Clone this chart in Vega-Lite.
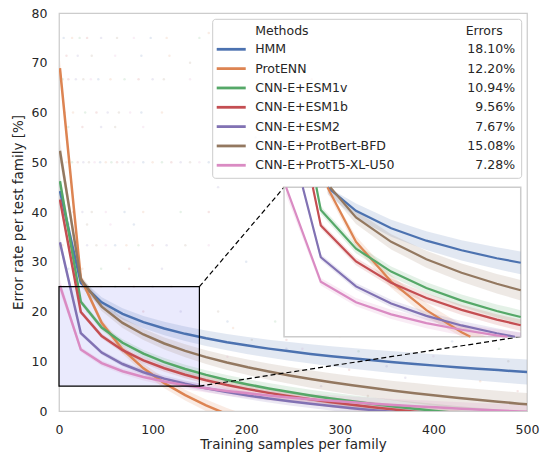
{
"$schema":"https://vega.github.io/schema/vega-lite/v6.json",
"width":468,"height":398,
"autosize":"none",
"padding":{"left":59,"top":13,"right":15,"bottom":43},
"background":"white",
"config":{"view":{"stroke":"#cccccc","strokeWidth":1.25},"font":"DejaVu Sans",
"axis":{"domain":false,"ticks":false,"grid":false,"labelFlush":false,"labelFont":"DejaVu Sans","labelFontSize":12.5,"labelColor":"#262626","titleFont":"DejaVu Sans","titleFontSize":13.5,"titleFontWeight":"normal","titleColor":"#262626","labelPadding":12}},
"data":{"values":[{}]},
"datasets":{
"curves":[
{"m":"HMM","x":1,"y":44.2,"lo":41.9,"hi":46.5},{"m":"HMM","x":23.3,"y":25.78,"lo":24.88,"hi":26.68},{"m":"HMM","x":45.6,"y":21.85,"lo":20.85,"hi":22.85},{"m":"HMM","x":67.9,"y":19.53,"lo":18.4,"hi":20.66},{"m":"HMM","x":90.2,"y":17.86,"lo":16.61,"hi":19.11},{"m":"HMM","x":112.5,"y":16.57,"lo":15.21,"hi":17.93},{"m":"HMM","x":134.8,"y":15.51,"lo":14.05,"hi":16.97},{"m":"HMM","x":157.1,"y":14.62,"lo":13.06,"hi":16.18},{"m":"HMM","x":179.4,"y":13.84,"lo":12.2,"hi":15.48},{"m":"HMM","x":201.7,"y":13.16,"lo":11.43,"hi":14.89},{"m":"HMM","x":224,"y":12.54,"lo":10.74,"hi":14.34},{"m":"HMM","x":246.3,"y":11.99,"lo":10.12,"hi":13.86},{"m":"HMM","x":268.6,"y":11.48,"lo":9.54,"hi":13.42},{"m":"HMM","x":290.9,"y":11.01,"lo":9.0,"hi":13.02},{"m":"HMM","x":313.2,"y":10.58,"lo":8.51,"hi":12.65},{"m":"HMM","x":335.5,"y":10.18,"lo":8.05,"hi":12.31},{"m":"HMM","x":357.8,"y":9.8,"lo":7.61,"hi":11.99},{"m":"HMM","x":380.1,"y":9.45,"lo":7.21,"hi":11.69},{"m":"HMM","x":402.4,"y":9.12,"lo":6.83,"hi":11.41},{"m":"HMM","x":424.7,"y":8.8,"lo":6.46,"hi":11.14},{"m":"HMM","x":447,"y":8.5,"lo":6.11,"hi":10.89},{"m":"HMM","x":469.3,"y":8.22,"lo":5.78,"hi":10.66},{"m":"HMM","x":491.6,"y":7.94,"lo":5.45,"hi":10.43},{"m":"HMM","x":513.9,"y":7.68,"lo":5.15,"hi":10.21},
{"m":"ProtENN","x":1,"y":68.9,"lo":67.17,"hi":70.63},{"m":"ProtENN","x":23.3,"y":26.71,"lo":26.03,"hi":27.39},{"m":"ProtENN","x":45.6,"y":17.71,"lo":16.96,"hi":18.46},{"m":"ProtENN","x":67.9,"y":12.38,"lo":11.53,"hi":13.23},{"m":"ProtENN","x":90.2,"y":8.57,"lo":7.63,"hi":9.51},{"m":"ProtENN","x":112.5,"y":5.61,"lo":4.59,"hi":6.63},{"m":"ProtENN","x":134.8,"y":3.19,"lo":2.09,"hi":4.29},{"m":"ProtENN","x":157.1,"y":1.14,"lo":-0.03,"hi":2.31},{"m":"ProtENN","x":179.4,"y":-0.64,"lo":-1.87,"hi":0.59},{"m":"ProtENN","x":201.7,"y":-2.21,"lo":-3.51,"hi":-0.91},
{"m":"CNN-E+ESM1v","x":1,"y":46.2,"lo":44.82,"hi":47.58},{"m":"CNN-E+ESM1v","x":23.3,"y":21.96,"lo":21.42,"hi":22.5},{"m":"CNN-E+ESM1v","x":45.6,"y":16.79,"lo":16.19,"hi":17.39},{"m":"CNN-E+ESM1v","x":67.9,"y":13.72,"lo":13.04,"hi":14.4},{"m":"CNN-E+ESM1v","x":90.2,"y":11.53,"lo":10.78,"hi":12.28},{"m":"CNN-E+ESM1v","x":112.5,"y":9.83,"lo":9.01,"hi":10.65},{"m":"CNN-E+ESM1v","x":134.8,"y":8.44,"lo":7.56,"hi":9.32},{"m":"CNN-E+ESM1v","x":157.1,"y":7.26,"lo":6.32,"hi":8.2},{"m":"CNN-E+ESM1v","x":179.4,"y":6.24,"lo":5.26,"hi":7.22},{"m":"CNN-E+ESM1v","x":201.7,"y":5.34,"lo":4.3,"hi":6.38},{"m":"CNN-E+ESM1v","x":224,"y":4.53,"lo":3.45,"hi":5.61},{"m":"CNN-E+ESM1v","x":246.3,"y":3.8,"lo":2.68,"hi":4.92},{"m":"CNN-E+ESM1v","x":268.6,"y":3.13,"lo":1.97,"hi":4.29},{"m":"CNN-E+ESM1v","x":290.9,"y":2.52,"lo":1.31,"hi":3.73},{"m":"CNN-E+ESM1v","x":313.2,"y":1.95,"lo":0.71,"hi":3.19},{"m":"CNN-E+ESM1v","x":335.5,"y":1.42,"lo":0.14,"hi":2.7},{"m":"CNN-E+ESM1v","x":357.8,"y":0.92,"lo":-0.39,"hi":2.23},{"m":"CNN-E+ESM1v","x":380.1,"y":0.46,"lo":-0.88,"hi":1.8},{"m":"CNN-E+ESM1v","x":402.4,"y":0.02,"lo":-1.35,"hi":1.39},{"m":"CNN-E+ESM1v","x":424.7,"y":-0.4,"lo":-1.8,"hi":1.0},{"m":"CNN-E+ESM1v","x":447,"y":-0.79,"lo":-2.22,"hi":0.64},{"m":"CNN-E+ESM1v","x":469.3,"y":-1.16,"lo":-2.62,"hi":0.3},{"m":"CNN-E+ESM1v","x":491.6,"y":-1.52,"lo":-3.01,"hi":-0.03},{"m":"CNN-E+ESM1v","x":513.9,"y":-1.86,"lo":-3.38,"hi":-0.34},
{"m":"CNN-E+ESM1b","x":1,"y":42.5,"lo":41.35,"hi":43.65},{"m":"CNN-E+ESM1b","x":23.3,"y":19.89,"lo":19.44,"hi":20.34},{"m":"CNN-E+ESM1b","x":45.6,"y":15.07,"lo":14.57,"hi":15.57},{"m":"CNN-E+ESM1b","x":67.9,"y":12.22,"lo":11.65,"hi":12.79},{"m":"CNN-E+ESM1b","x":90.2,"y":10.18,"lo":9.55,"hi":10.81},{"m":"CNN-E+ESM1b","x":112.5,"y":8.59,"lo":7.91,"hi":9.27},{"m":"CNN-E+ESM1b","x":134.8,"y":7.29,"lo":6.56,"hi":8.02},{"m":"CNN-E+ESM1b","x":157.1,"y":6.19,"lo":5.41,"hi":6.97},{"m":"CNN-E+ESM1b","x":179.4,"y":5.24,"lo":4.42,"hi":6.06},{"m":"CNN-E+ESM1b","x":201.7,"y":4.4,"lo":3.53,"hi":5.27},{"m":"CNN-E+ESM1b","x":224,"y":3.64,"lo":2.74,"hi":4.54},{"m":"CNN-E+ESM1b","x":246.3,"y":2.96,"lo":2.02,"hi":3.9},{"m":"CNN-E+ESM1b","x":268.6,"y":2.34,"lo":1.37,"hi":3.31},{"m":"CNN-E+ESM1b","x":290.9,"y":1.77,"lo":0.76,"hi":2.78},{"m":"CNN-E+ESM1b","x":313.2,"y":1.24,"lo":0.2,"hi":2.28},{"m":"CNN-E+ESM1b","x":335.5,"y":0.74,"lo":-0.33,"hi":1.81},{"m":"CNN-E+ESM1b","x":357.8,"y":0.28,"lo":-0.82,"hi":1.38},{"m":"CNN-E+ESM1b","x":380.1,"y":-0.15,"lo":-1.27,"hi":0.97},{"m":"CNN-E+ESM1b","x":402.4,"y":-0.56,"lo":-1.71,"hi":0.59},{"m":"CNN-E+ESM1b","x":424.7,"y":-0.95,"lo":-2.12,"hi":0.22},{"m":"CNN-E+ESM1b","x":447,"y":-1.32,"lo":-2.52,"hi":-0.12},{"m":"CNN-E+ESM1b","x":469.3,"y":-1.66,"lo":-2.88,"hi":-0.44},
{"m":"CNN-E+ESM2","x":1,"y":33.9,"lo":32.86,"hi":34.94},{"m":"CNN-E+ESM2","x":23.3,"y":15.64,"lo":15.23,"hi":16.05},{"m":"CNN-E+ESM2","x":45.6,"y":11.74,"lo":11.29,"hi":12.19},{"m":"CNN-E+ESM2","x":67.9,"y":9.44,"lo":8.93,"hi":9.95},{"m":"CNN-E+ESM2","x":90.2,"y":7.79,"lo":7.23,"hi":8.35},{"m":"CNN-E+ESM2","x":112.5,"y":6.51,"lo":5.9,"hi":7.12},{"m":"CNN-E+ESM2","x":134.8,"y":5.46,"lo":4.8,"hi":6.12},{"m":"CNN-E+ESM2","x":157.1,"y":4.57,"lo":3.87,"hi":5.27},{"m":"CNN-E+ESM2","x":179.4,"y":3.8,"lo":3.06,"hi":4.54},{"m":"CNN-E+ESM2","x":201.7,"y":3.12,"lo":2.34,"hi":3.9},{"m":"CNN-E+ESM2","x":224,"y":2.51,"lo":1.7,"hi":3.32},{"m":"CNN-E+ESM2","x":246.3,"y":1.96,"lo":1.12,"hi":2.8},{"m":"CNN-E+ESM2","x":268.6,"y":1.46,"lo":0.59,"hi":2.33},{"m":"CNN-E+ESM2","x":290.9,"y":1.0,"lo":0.1,"hi":1.9},{"m":"CNN-E+ESM2","x":313.2,"y":0.57,"lo":-0.36,"hi":1.5},{"m":"CNN-E+ESM2","x":335.5,"y":0.17,"lo":-0.79,"hi":1.13},{"m":"CNN-E+ESM2","x":357.8,"y":-0.2,"lo":-1.19,"hi":0.79},{"m":"CNN-E+ESM2","x":380.1,"y":-0.56,"lo":-1.57,"hi":0.45},{"m":"CNN-E+ESM2","x":402.4,"y":-0.89,"lo":-1.92,"hi":0.14},{"m":"CNN-E+ESM2","x":424.7,"y":-1.2,"lo":-2.25,"hi":-0.15},
{"m":"CNN-E+ProtBert-BFD","x":1,"y":52.3,"lo":50.23,"hi":54.37},{"m":"CNN-E+ProtBert-BFD","x":23.3,"y":26.48,"lo":25.67,"hi":27.29},{"m":"CNN-E+ProtBert-BFD","x":45.6,"y":20.98,"lo":20.08,"hi":21.88},{"m":"CNN-E+ProtBert-BFD","x":67.9,"y":17.71,"lo":16.69,"hi":18.73},{"m":"CNN-E+ProtBert-BFD","x":90.2,"y":15.38,"lo":14.25,"hi":16.51},{"m":"CNN-E+ProtBert-BFD","x":112.5,"y":13.57,"lo":12.35,"hi":14.79},{"m":"CNN-E+ProtBert-BFD","x":134.8,"y":12.09,"lo":10.78,"hi":13.4},{"m":"CNN-E+ProtBert-BFD","x":157.1,"y":10.83,"lo":9.43,"hi":12.23},{"m":"CNN-E+ProtBert-BFD","x":179.4,"y":9.74,"lo":8.26,"hi":11.22},{"m":"CNN-E+ProtBert-BFD","x":201.7,"y":8.78,"lo":7.22,"hi":10.34},{"m":"CNN-E+ProtBert-BFD","x":224,"y":7.92,"lo":6.3,"hi":9.54},{"m":"CNN-E+ProtBert-BFD","x":246.3,"y":7.15,"lo":5.47,"hi":8.83},{"m":"CNN-E+ProtBert-BFD","x":268.6,"y":6.44,"lo":4.69,"hi":8.19},{"m":"CNN-E+ProtBert-BFD","x":290.9,"y":5.78,"lo":3.97,"hi":7.59},{"m":"CNN-E+ProtBert-BFD","x":313.2,"y":5.18,"lo":3.32,"hi":7.04},{"m":"CNN-E+ProtBert-BFD","x":335.5,"y":4.61,"lo":2.69,"hi":6.53},{"m":"CNN-E+ProtBert-BFD","x":357.8,"y":4.08,"lo":2.11,"hi":6.05},{"m":"CNN-E+ProtBert-BFD","x":380.1,"y":3.59,"lo":1.57,"hi":5.61},{"m":"CNN-E+ProtBert-BFD","x":402.4,"y":3.12,"lo":1.06,"hi":5.18},{"m":"CNN-E+ProtBert-BFD","x":424.7,"y":2.68,"lo":0.57,"hi":4.79},{"m":"CNN-E+ProtBert-BFD","x":447,"y":2.26,"lo":0.11,"hi":4.41},{"m":"CNN-E+ProtBert-BFD","x":469.3,"y":1.86,"lo":-0.34,"hi":4.06},{"m":"CNN-E+ProtBert-BFD","x":491.6,"y":1.48,"lo":-0.76,"hi":3.72},{"m":"CNN-E+ProtBert-BFD","x":513.9,"y":1.12,"lo":-1.16,"hi":3.4},
{"m":"CNN-E+ProtT5-XL-U50","x":1,"y":25.2,"lo":23.93,"hi":26.47},{"m":"CNN-E+ProtT5-XL-U50","x":23.3,"y":12.35,"lo":11.85,"hi":12.85},{"m":"CNN-E+ProtT5-XL-U50","x":45.6,"y":9.62,"lo":9.07,"hi":10.17},{"m":"CNN-E+ProtT5-XL-U50","x":67.9,"y":7.99,"lo":7.37,"hi":8.61},{"m":"CNN-E+ProtT5-XL-U50","x":90.2,"y":6.83,"lo":6.14,"hi":7.52},{"m":"CNN-E+ProtT5-XL-U50","x":112.5,"y":5.93,"lo":5.18,"hi":6.68},{"m":"CNN-E+ProtT5-XL-U50","x":134.8,"y":5.19,"lo":4.39,"hi":5.99},{"m":"CNN-E+ProtT5-XL-U50","x":157.1,"y":4.57,"lo":3.71,"hi":5.43},{"m":"CNN-E+ProtT5-XL-U50","x":179.4,"y":4.03,"lo":3.13,"hi":4.93},{"m":"CNN-E+ProtT5-XL-U50","x":201.7,"y":3.55,"lo":2.6,"hi":4.5},{"m":"CNN-E+ProtT5-XL-U50","x":224,"y":3.12,"lo":2.13,"hi":4.11},{"m":"CNN-E+ProtT5-XL-U50","x":246.3,"y":2.73,"lo":1.7,"hi":3.76},{"m":"CNN-E+ProtT5-XL-U50","x":268.6,"y":2.38,"lo":1.31,"hi":3.45},{"m":"CNN-E+ProtT5-XL-U50","x":290.9,"y":2.05,"lo":0.94,"hi":3.16},{"m":"CNN-E+ProtT5-XL-U50","x":313.2,"y":1.75,"lo":0.61,"hi":2.89},{"m":"CNN-E+ProtT5-XL-U50","x":335.5,"y":1.47,"lo":0.3,"hi":2.64},{"m":"CNN-E+ProtT5-XL-U50","x":357.8,"y":1.21,"lo":0.01,"hi":2.41},{"m":"CNN-E+ProtT5-XL-U50","x":380.1,"y":0.96,"lo":-0.27,"hi":2.19},{"m":"CNN-E+ProtT5-XL-U50","x":402.4,"y":0.73,"lo":-0.53,"hi":1.99},{"m":"CNN-E+ProtT5-XL-U50","x":424.7,"y":0.51,"lo":-0.78,"hi":1.8},{"m":"CNN-E+ProtT5-XL-U50","x":447,"y":0.3,"lo":-1.01,"hi":1.61},{"m":"CNN-E+ProtT5-XL-U50","x":469.3,"y":0.1,"lo":-1.24,"hi":1.44},{"m":"CNN-E+ProtT5-XL-U50","x":491.6,"y":-0.09,"lo":-1.46,"hi":1.28},{"m":"CNN-E+ProtT5-XL-U50","x":513.9,"y":-0.27,"lo":-1.66,"hi":1.12}
],
"inset":[
{"m":"HMM","x":27.7,"y":25,"lo":24.08,"hi":25},{"m":"HMM","x":45.6,"y":21.85,"lo":20.85,"hi":22.85},{"m":"HMM","x":67.9,"y":19.53,"lo":18.4,"hi":20.66},{"m":"HMM","x":90.2,"y":17.86,"lo":16.61,"hi":19.11},{"m":"HMM","x":112.5,"y":16.57,"lo":15.21,"hi":17.93},{"m":"HMM","x":134.8,"y":15.51,"lo":14.05,"hi":16.97},{"m":"HMM","x":150,"y":14.9,"lo":13.38,"hi":16.42},
{"m":"ProtENN","x":27.5,"y":25,"lo":24.3,"hi":25},{"m":"ProtENN","x":45.6,"y":17.71,"lo":16.96,"hi":18.46},{"m":"ProtENN","x":67.9,"y":12.38,"lo":11.53,"hi":13.23},{"m":"ProtENN","x":90.2,"y":8.57,"lo":7.63,"hi":9.51},{"m":"ProtENN","x":112.5,"y":5.61,"lo":5,"hi":6.63},{"m":"ProtENN","x":118.1,"y":5,"lo":5,"hi":6.05},{"m":"ProtENN","x":128,"y":null,"lo":5,"hi":5},
{"m":"CNN-E+ESM1v","x":20.5,"y":25,"lo":24.5,"hi":25},{"m":"CNN-E+ESM1v","x":23.3,"y":21.96,"lo":21.42,"hi":22.5},{"m":"CNN-E+ESM1v","x":45.6,"y":16.79,"lo":16.19,"hi":17.39},{"m":"CNN-E+ESM1v","x":67.9,"y":13.72,"lo":13.04,"hi":14.4},{"m":"CNN-E+ESM1v","x":90.2,"y":11.53,"lo":10.78,"hi":12.28},{"m":"CNN-E+ESM1v","x":112.5,"y":9.83,"lo":9.01,"hi":10.65},{"m":"CNN-E+ESM1v","x":134.8,"y":8.44,"lo":7.56,"hi":9.32},{"m":"CNN-E+ESM1v","x":150,"y":7.64,"lo":6.72,"hi":8.56},
{"m":"CNN-E+ESM1b","x":18.26,"y":25,"lo":24.5,"hi":25},{"m":"CNN-E+ESM1b","x":23.3,"y":19.89,"lo":19.44,"hi":20.34},{"m":"CNN-E+ESM1b","x":45.6,"y":15.07,"lo":14.57,"hi":15.57},{"m":"CNN-E+ESM1b","x":67.9,"y":12.22,"lo":11.65,"hi":12.79},{"m":"CNN-E+ESM1b","x":90.2,"y":10.18,"lo":9.55,"hi":10.81},{"m":"CNN-E+ESM1b","x":112.5,"y":8.59,"lo":7.91,"hi":9.27},{"m":"CNN-E+ESM1b","x":134.8,"y":7.29,"lo":6.56,"hi":8.02},{"m":"CNN-E+ESM1b","x":150,"y":6.54,"lo":5.78,"hi":7.3},
{"m":"CNN-E+ESM2","x":11.87,"y":25,"lo":24.55,"hi":25},{"m":"CNN-E+ESM2","x":23.3,"y":15.64,"lo":15.23,"hi":16.05},{"m":"CNN-E+ESM2","x":45.6,"y":11.74,"lo":11.29,"hi":12.19},{"m":"CNN-E+ESM2","x":67.9,"y":9.44,"lo":8.93,"hi":9.95},{"m":"CNN-E+ESM2","x":90.2,"y":7.79,"lo":7.23,"hi":8.35},{"m":"CNN-E+ESM2","x":112.5,"y":6.51,"lo":5.9,"hi":7.12},{"m":"CNN-E+ESM2","x":134.8,"y":5.46,"lo":5,"hi":6.12},{"m":"CNN-E+ESM2","x":146.3,"y":5,"lo":5,"hi":5.68},{"m":"CNN-E+ESM2","x":150,"y":null,"lo":5,"hi":5.53},
{"m":"CNN-E+ProtBert-BFD","x":29.3,"y":25,"lo":24.2,"hi":25},{"m":"CNN-E+ProtBert-BFD","x":45.6,"y":20.98,"lo":20.08,"hi":21.88},{"m":"CNN-E+ProtBert-BFD","x":67.9,"y":17.71,"lo":16.69,"hi":18.73},{"m":"CNN-E+ProtBert-BFD","x":90.2,"y":15.38,"lo":14.25,"hi":16.51},{"m":"CNN-E+ProtBert-BFD","x":112.5,"y":13.57,"lo":12.35,"hi":14.79},{"m":"CNN-E+ProtBert-BFD","x":134.8,"y":12.09,"lo":10.78,"hi":13.4},{"m":"CNN-E+ProtBert-BFD","x":150,"y":11.23,"lo":9.86,"hi":12.6},
{"m":"CNN-E+ProtT5-XL-U50","x":1.35,"y":25,"lo":23.95,"hi":25},{"m":"CNN-E+ProtT5-XL-U50","x":23.3,"y":12.35,"lo":11.85,"hi":12.85},{"m":"CNN-E+ProtT5-XL-U50","x":45.6,"y":9.62,"lo":9.07,"hi":10.17},{"m":"CNN-E+ProtT5-XL-U50","x":67.9,"y":7.99,"lo":7.37,"hi":8.61},{"m":"CNN-E+ProtT5-XL-U50","x":90.2,"y":6.83,"lo":6.14,"hi":7.52},{"m":"CNN-E+ProtT5-XL-U50","x":112.5,"y":5.93,"lo":5.18,"hi":6.68},{"m":"CNN-E+ProtT5-XL-U50","x":134.8,"y":5.19,"lo":5,"hi":5.99},{"m":"CNN-E+ProtT5-XL-U50","x":141.6,"y":5,"lo":5,"hi":5.81},{"m":"CNN-E+ProtT5-XL-U50","x":150,"y":null,"lo":5,"hi":5.6}
],
"legend":[
{"m":"HMM","err":"18.10%","rank":0},{"m":"ProtENN","err":"12.20%","rank":1},{"m":"CNN-E+ESM1v","err":"10.94%","rank":2},{"m":"CNN-E+ESM1b","err":"9.56%","rank":3},{"m":"CNN-E+ESM2","err":"7.67%","rank":4},{"m":"CNN-E+ProtBert-BFD","err":"15.08%","rank":5},{"m":"CNN-E+ProtT5-XL-U50","err":"7.28%","rank":6}
],
"dots":[
{"m":"HMM","x":5,"y":75},{"m":"ProtENN","x":14,"y":75},{"m":"CNN-E+ESM1v","x":22,"y":75},{"m":"CNN-E+ESM1b","x":30,"y":75},{"m":"CNN-E+ESM2","x":45,"y":75},{"m":"CNN-E+ProtBert-BFD","x":62,"y":75},{"m":"CNN-E+ProtT5-XL-U50","x":80,"y":75},{"m":"HMM","x":98,"y":75},{"m":"ProtENN","x":115,"y":75},{"m":"CNN-E+ESM1v","x":150,"y":75},
{"m":"CNN-E+ESM1b","x":8,"y":71.4},{"m":"CNN-E+ESM2","x":20,"y":71.4},{"m":"CNN-E+ProtBert-BFD","x":35,"y":71.4},{"m":"CNN-E+ProtT5-XL-U50","x":60,"y":71.4},{"m":"HMM","x":88,"y":71.4},{"m":"ProtENN","x":118,"y":71.4},
{"m":"CNN-E+ESM1v","x":4,"y":66.7},{"m":"CNN-E+ESM1b","x":10,"y":66.7},{"m":"CNN-E+ESM2","x":18,"y":66.7},{"m":"CNN-E+ProtBert-BFD","x":26,"y":66.7},{"m":"CNN-E+ProtT5-XL-U50","x":34,"y":66.7},{"m":"HMM","x":42,"y":66.7},{"m":"ProtENN","x":55,"y":66.7},{"m":"CNN-E+ESM1v","x":70,"y":66.7},{"m":"CNN-E+ESM1b","x":85,"y":66.7},{"m":"CNN-E+ESM2","x":100,"y":66.7},{"m":"CNN-E+ProtBert-BFD","x":112,"y":66.7},{"m":"CNN-E+ProtT5-XL-U50","x":140,"y":66.7},
{"m":"HMM","x":6,"y":60},{"m":"ProtENN","x":15,"y":60},{"m":"CNN-E+ESM1v","x":28,"y":60},{"m":"CNN-E+ESM1b","x":40,"y":60},{"m":"CNN-E+ESM2","x":52,"y":60},{"m":"CNN-E+ProtBert-BFD","x":64,"y":60},{"m":"CNN-E+ProtT5-XL-U50","x":76,"y":60},{"m":"HMM","x":88,"y":60},{"m":"ProtENN","x":110,"y":60},
{"m":"CNN-E+ESM1v","x":10,"y":57.1},{"m":"CNN-E+ESM1b","x":25,"y":57.1},{"m":"CNN-E+ESM2","x":45,"y":57.1},{"m":"CNN-E+ProtBert-BFD","x":60,"y":57.1},{"m":"CNN-E+ProtT5-XL-U50","x":90,"y":57.1},
{"m":"HMM","x":3,"y":50},{"m":"ProtENN","x":8,"y":50},{"m":"CNN-E+ESM1v","x":14,"y":50},{"m":"CNN-E+ESM1b","x":20,"y":50},{"m":"CNN-E+ESM2","x":26,"y":50},{"m":"CNN-E+ProtBert-BFD","x":32,"y":50},{"m":"CNN-E+ProtT5-XL-U50","x":38,"y":50},{"m":"HMM","x":44,"y":50},{"m":"ProtENN","x":50,"y":50},{"m":"CNN-E+ESM1v","x":56,"y":50},{"m":"CNN-E+ESM1b","x":62,"y":50},{"m":"CNN-E+ESM2","x":68,"y":50},{"m":"CNN-E+ProtBert-BFD","x":74,"y":50},{"m":"CNN-E+ProtT5-XL-U50","x":80,"y":50},{"m":"HMM","x":90,"y":50},{"m":"ProtENN","x":100,"y":50},{"m":"CNN-E+ESM1v","x":110,"y":50},{"m":"CNN-E+ESM1b","x":120,"y":50},{"m":"CNN-E+ESM2","x":130,"y":50},{"m":"CNN-E+ProtBert-BFD","x":140,"y":50},{"m":"CNN-E+ProtT5-XL-U50","x":150,"y":50},{"m":"HMM","x":160,"y":50},{"m":"ProtENN","x":200,"y":50},
{"m":"CNN-E+ESM1v","x":5,"y":40},{"m":"CNN-E+ESM1b","x":15,"y":40},{"m":"CNN-E+ESM2","x":25,"y":40},{"m":"CNN-E+ProtBert-BFD","x":35,"y":40},{"m":"CNN-E+ProtT5-XL-U50","x":50,"y":40},{"m":"HMM","x":70,"y":40},{"m":"ProtENN","x":90,"y":40},{"m":"CNN-E+ESM1v","x":130,"y":40},{"m":"CNN-E+ESM1b","x":160,"y":40},
{"m":"CNN-E+ESM2","x":10,"y":37.5},{"m":"CNN-E+ProtBert-BFD","x":30,"y":37.5},{"m":"CNN-E+ProtT5-XL-U50","x":55,"y":37.5},{"m":"HMM","x":80,"y":37.5},
{"m":"ProtENN","x":4,"y":33.3},{"m":"CNN-E+ESM1v","x":12,"y":33.3},{"m":"CNN-E+ESM1b","x":20,"y":33.3},{"m":"CNN-E+ESM2","x":30,"y":33.3},{"m":"CNN-E+ProtBert-BFD","x":40,"y":33.3},{"m":"CNN-E+ProtT5-XL-U50","x":50,"y":33.3},{"m":"HMM","x":60,"y":33.3},{"m":"ProtENN","x":72,"y":33.3},{"m":"CNN-E+ESM1v","x":85,"y":33.3},{"m":"CNN-E+ESM1b","x":100,"y":33.3},{"m":"CNN-E+ESM2","x":115,"y":33.3},{"m":"CNN-E+ProtBert-BFD","x":135,"y":33.3},{"m":"CNN-E+ProtT5-XL-U50","x":160,"y":33.3},
{"m":"HMM","x":10,"y":28.6},{"m":"ProtENN","x":25,"y":28.6},{"m":"CNN-E+ESM1v","x":45,"y":28.6},{"m":"CNN-E+ESM1b","x":75,"y":28.6},{"m":"CNN-E+ESM2","x":110,"y":28.6},
{"m":"CNN-E+ProtBert-BFD","x":5,"y":25},{"m":"CNN-E+ProtT5-XL-U50","x":15,"y":25},{"m":"HMM","x":30,"y":25},{"m":"ProtENN","x":45,"y":25},{"m":"CNN-E+ESM1v","x":60,"y":25},{"m":"CNN-E+ESM1b","x":80,"y":25},{"m":"CNN-E+ESM2","x":100,"y":25},{"m":"CNN-E+ProtBert-BFD","x":120,"y":25},{"m":"CNN-E+ProtT5-XL-U50","x":150,"y":25},
{"m":"HMM","x":10,"y":20},{"m":"ProtENN","x":30,"y":20},{"m":"CNN-E+ESM1v","x":60,"y":20},{"m":"CNN-E+ESM1b","x":90,"y":20},{"m":"CNN-E+ESM2","x":130,"y":20},{"m":"CNN-E+ProtBert-BFD","x":170,"y":20},
{"m":"HMM","x":180,"y":18},{"m":"ProtENN","x":186,"y":16.7},{"m":"CNN-E+ESM1v","x":231,"y":18},{"m":"CNN-E+ESM1b","x":243,"y":14.3},{"m":"CNN-E+ESM2","x":243,"y":12.5},{"m":"CNN-E+ProtBert-BFD","x":206,"y":14.3},{"m":"CNN-E+ProtT5-XL-U50","x":180,"y":10.9},{"m":"HMM","x":260,"y":20},{"m":"ProtENN","x":300,"y":15},{"m":"CNN-E+ESM1v","x":320,"y":12},{"m":"CNN-E+ESM1b","x":340,"y":22},{"m":"CNN-E+ESM2","x":350,"y":9},{"m":"CNN-E+ProtBert-BFD","x":380,"y":16.7},{"m":"CNN-E+ProtT5-XL-U50","x":400,"y":11},{"m":"HMM","x":420,"y":14},{"m":"ProtENN","x":450,"y":6},{"m":"CNN-E+ESM1v","x":470,"y":12.5},{"m":"CNN-E+ESM1b","x":490,"y":4},{"m":"CNN-E+ESM2","x":280,"y":5},{"m":"CNN-E+ProtBert-BFD","x":330,"y":3},{"m":"CNN-E+ProtT5-XL-U50","x":250,"y":7},{"m":"HMM","x":200,"y":30},{"m":"ProtENN","x":240,"y":45},{"m":"CNN-E+ESM1v","x":290,"y":40},{"m":"CNN-E+ESM1b","x":330,"y":35},{"m":"CNN-E+ESM2","x":170,"y":45},{"m":"CNN-E+ProtBert-BFD","x":140,"y":70},{"m":"CNN-E+ProtT5-XL-U50","x":190,"y":62},{"m":"HMM","x":210,"y":55},{"m":"ProtENN","x":160,"y":76},{"m":"CNN-E+ESM1v","x":230,"y":78},{"m":"CNN-E+ESM1b","x":270,"y":66.7},{"m":"CNN-E+ESM2","x":300,"y":50},{"m":"CNN-E+ProtBert-BFD","x":420,"y":25},{"m":"CNN-E+ProtT5-XL-U50","x":440,"y":33.3},{"m":"HMM","x":360,"y":28.6},{"m":"ProtENN","x":390,"y":20},{"m":"CNN-E+ESM1v","x":460,"y":16.7},{"m":"CNN-E+ESM1b","x":310,"y":8.3},{"m":"CNN-E+ESM2","x":370,"y":6.7},{"m":"CNN-E+ProtBert-BFD","x":480,"y":10},{"m":"CNN-E+ProtT5-XL-U50","x":260,"y":12.5}
]
},
"layer":[
{"layer":[
 {"data":{"name":"dots"},"mark":{"type":"point","filled":true,"size":6,"opacity":0.15,"clip":true},
  "encoding":{
   "x":{"field":"x","type":"quantitative","scale":{"domain":[0,500],"nice":false,"zero":false},"axis":{"values":[0,100,200,300,400,500],"title":"Training samples per family","titlePadding":2}},
   "y":{"field":"y","type":"quantitative","scale":{"domain":[0,80],"nice":false,"zero":false},"axis":{"values":[0,10,20,30,40,50,60,70,80],"title":"Error rate per test family [%]","titlePadding":6}},
   "color":{"field":"m","type":"nominal","scale":{"domain":["HMM","ProtENN","CNN-E+ESM1v","CNN-E+ESM1b","CNN-E+ESM2","CNN-E+ProtBert-BFD","CNN-E+ProtT5-XL-U50"],"range":["#4C72B0","#DD8452","#55A868","#C44E52","#8172B3","#937860","#DA8BC3"]},"legend":null}}},
 {"mark":{"type":"rect","fill":"#3030f0","fillOpacity":0.1},
  "encoding":{"x":{"datum":0},"x2":{"datum":150},"y":{"datum":5},"y2":{"datum":25}}},
 {"data":{"name":"curves"},"mark":{"type":"area","opacity":0.16,"clip":true},
  "encoding":{"x":{"field":"x","type":"quantitative"},"y":{"field":"lo","type":"quantitative"},"y2":{"field":"hi"},"color":{"field":"m","type":"nominal","legend":null}}},
 {"data":{"name":"curves"},"mark":{"type":"line","strokeWidth":2.5,"clip":true},
  "encoding":{"x":{"field":"x","type":"quantitative"},"y":{"field":"y","type":"quantitative"},"color":{"field":"m","type":"nominal","legend":null}}},
 {"mark":{"type":"rect","fillOpacity":0,"stroke":"black","strokeWidth":1.2},
  "encoding":{"x":{"datum":0},"x2":{"datum":150},"y":{"datum":5},"y2":{"datum":25}}},
 {"mark":{"type":"rule","color":"black","strokeWidth":1.2,"strokeDash":[5,3]},
  "encoding":{"x":{"datum":150},"y":{"datum":25},"x2":{"datum":240.4},"y2":{"datum":44.96}}},
 {"mark":{"type":"rule","color":"black","strokeWidth":1.2,"strokeDash":[5,3]},
  "encoding":{"x":{"datum":150},"y":{"datum":5},"x2":{"datum":493.3},"y2":{"datum":14.93}}}
]},
{"layer":[
 {"mark":{"type":"rect","fill":"white","stroke":"#cccccc","strokeWidth":1.5},
  "encoding":{"x":{"datum":0,"scale":{"domain":[-142.59,153.97],"nice":false,"zero":false},"axis":null},"x2":{"datum":150},"y":{"datum":5,"scale":{"domain":[-4.943,48.337],"nice":false,"zero":false},"axis":null},"y2":{"datum":25}}},
 {"data":{"name":"inset"},"mark":{"type":"area","opacity":0.16},
  "encoding":{"x":{"field":"x","type":"quantitative","axis":null},"y":{"field":"lo","type":"quantitative","axis":null},"y2":{"field":"hi"},"color":{"field":"m","type":"nominal","legend":null}}},
 {"data":{"name":"inset"},"mark":{"type":"line","strokeWidth":2.2},
  "encoding":{"x":{"field":"x","type":"quantitative","axis":null},"y":{"field":"y","type":"quantitative","axis":null},"color":{"field":"m","type":"nominal","legend":null}}}
]},
{"layer":[
 {"mark":{"type":"rect","fill":"white","fillOpacity":0.8,"stroke":"#cccccc","strokeWidth":1,"cornerRadius":3},
  "encoding":{"x":{"datum":164.2,"scale":{"domain":[0,500],"nice":false,"zero":false},"axis":null},"x2":{"datum":494.3},"y":{"datum":-1.552,"scale":{"domain":[-1.878,18.712],"reverse":true,"nice":false,"zero":false},"axis":null},"y2":{"datum":6.674}}},
 {"data":{"name":"legend"},"mark":{"type":"rule","strokeWidth":2.8},
  "encoding":{"x":{"datum":168.5},"x2":{"datum":199.5},"y":{"field":"rank","type":"quantitative"},"color":{"field":"m","type":"nominal","legend":null}}},
 {"data":{"name":"legend"},"mark":{"type":"text","align":"left","baseline":"middle","fontSize":12.5,"color":"#262626","font":"DejaVu Sans"},
  "encoding":{"x":{"datum":209.6},"y":{"field":"rank","type":"quantitative"},"text":{"field":"m"}}},
 {"data":{"name":"legend"},"mark":{"type":"text","align":"right","baseline":"middle","fontSize":12.5,"color":"#262626","font":"DejaVu Sans"},
  "encoding":{"x":{"datum":487.2},"y":{"field":"rank","type":"quantitative"},"text":{"field":"err"}}},
 {"mark":{"type":"text","align":"left","baseline":"middle","fontSize":12.5,"color":"#262626","font":"DejaVu Sans","text":"Methods"},
  "encoding":{"x":{"datum":209.6},"y":{"datum":-0.962}}},
 {"mark":{"type":"text","align":"left","baseline":"middle","fontSize":12.5,"color":"#262626","font":"DejaVu Sans","text":"Errors"},
  "encoding":{"x":{"datum":434.5},"y":{"datum":-0.962}}}
]}
],
"resolve":{"scale":{"x":"independent","y":"independent"}}
}
